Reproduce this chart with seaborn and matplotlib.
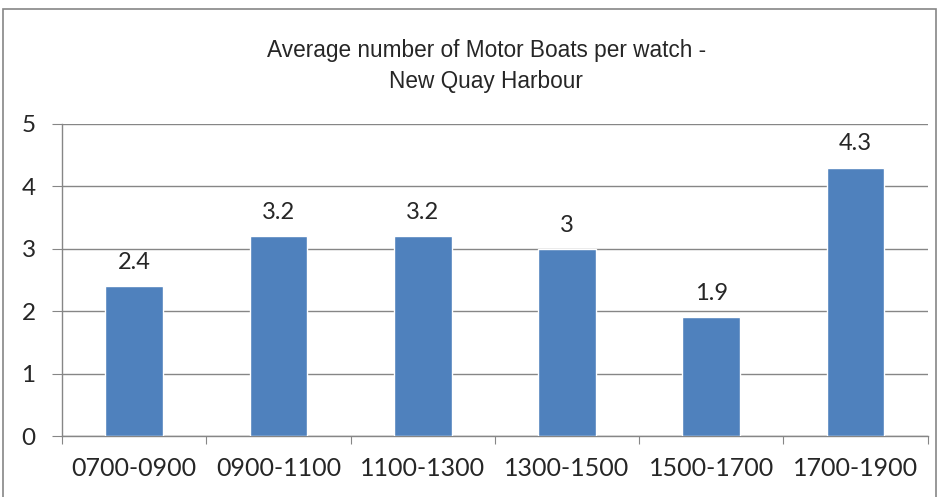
import matplotlib
matplotlib.use("Agg")
import matplotlib.pyplot as plt
import seaborn as sns
import pandas as pd
from matplotlib.patches import Rectangle

# data
periods = ["0700-0900", "0900-1100", "1100-1300", "1300-1500", "1500-1700", "1700-1900"]
avg_boats = [2.4, 3.2, 3.2, 3.0, 1.9, 4.3]
value_labels = ["2.4", "3.2", "3.2", "3", "1.9", "4.3"]

df = pd.DataFrame({"period": periods, "boats": avg_boats})

sns.set_style("white")
plt.rcParams["font.family"] = ["Lato", "DejaVu Sans"]

fig = plt.figure(figsize=(9.39, 4.97), dpi=100)
ax = fig.add_axes([0.066, 0.1227, 0.922, 0.628])

sns.barplot(data=df, x="period", y="boats", color="#4F81BD", width=0.4,
            saturation=1, ax=ax, zorder=3)

ax.set_ylim(0, 5)
ax.set_xlim(-0.5, len(periods) - 0.5)
ax.set_yticks(range(6))
ax.yaxis.grid(True, color="#868686", linewidth=1, zorder=0)
ax.set_axisbelow(True)

for s in ["top", "right"]:
    ax.spines[s].set_visible(False)
for s in ["left", "bottom"]:
    ax.spines[s].set_color("#868686")
    ax.spines[s].set_linewidth(1)

# ticks at category boundaries on x
ax.set_xticks([i - 0.5 for i in range(len(periods) + 1)], minor=False)
ax.set_xticklabels([])
ax.set_xticks(range(len(periods)), minor=True)
ax.set_xticklabels(periods, minor=True)
ax.tick_params(axis="x", which="major", length=6, color="#868686", direction="out", bottom=True)
ax.tick_params(axis="x", which="minor", length=0, labelsize=18, pad=15)
ax.tick_params(axis="y", length=7, color="#868686", direction="out", left=True, labelsize=17.5, pad=12)
ax.set_xlabel("")
ax.set_ylabel("")

for i, (v, t) in enumerate(zip(avg_boats, value_labels)):
    ax.annotate(t, (i, v), xytext=(0, 17), textcoords="offset points",
                ha="center", va="center", fontsize=17)

fig.text(0.518, 0.922, "Average number of Motor Boats per watch -\nNew Quay Harbour",
         ha="center", va="top", fontsize=16.3, family=["Liberation Sans Narrow", "Liberation Sans", "DejaVu Sans"],
         linespacing=1.45)

fig.patches.append(Rectangle((0.003, -0.01), 0.994, 0.992, transform=fig.transFigure,
                             fill=False, edgecolor="#868686", linewidth=1.2))

fig.savefig("out.png", dpi=100)
